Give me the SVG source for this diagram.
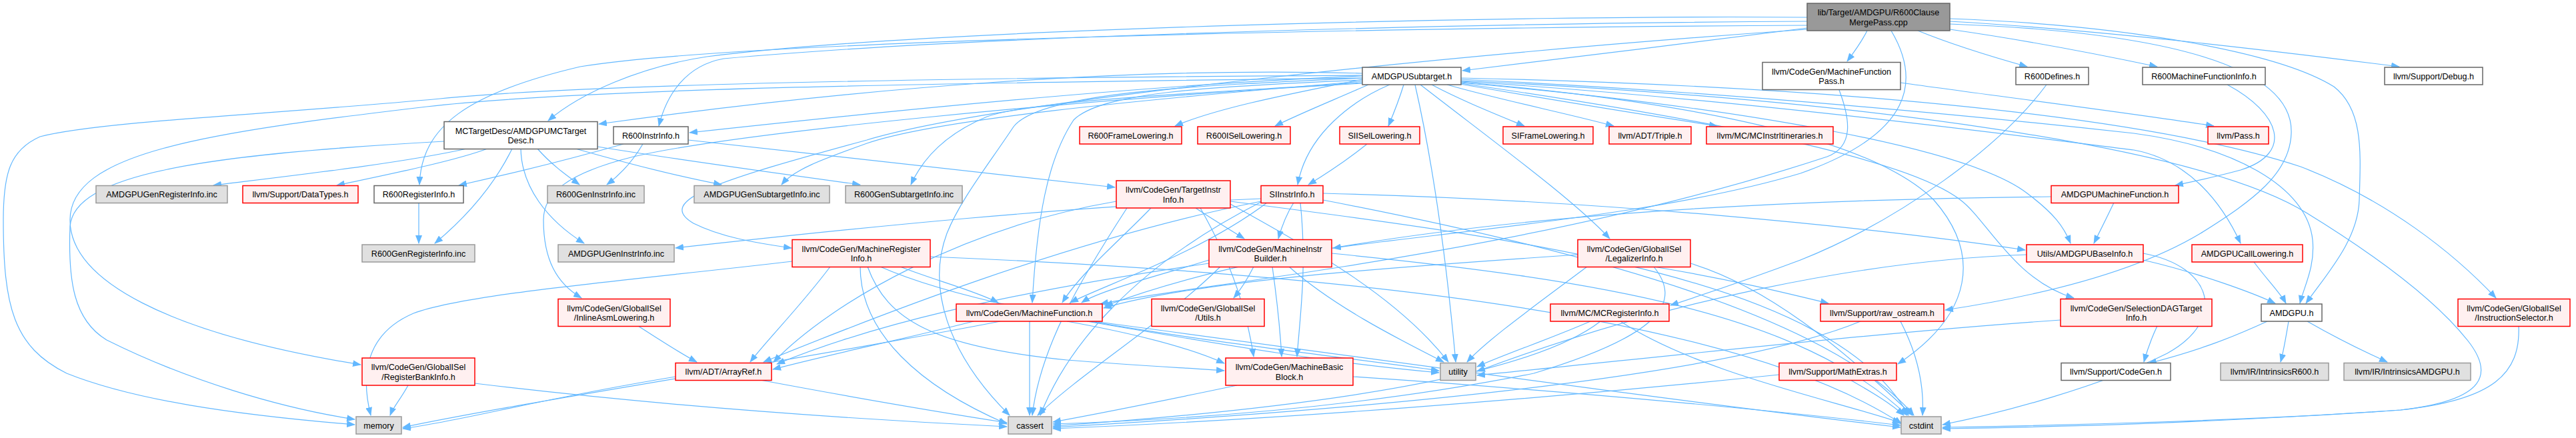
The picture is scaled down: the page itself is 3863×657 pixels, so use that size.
<svg xmlns="http://www.w3.org/2000/svg" width="3863" height="657" viewBox="0 0 3863 657">
<style>
.w rect{fill:#ffffff;stroke:#666666;stroke-width:1.5}
.g rect{fill:#e0e0e0;stroke:#999999;stroke-width:1.5}
.r rect{fill:#fff0f0;stroke:#ff0000;stroke-width:1.5}
.root rect{fill:#999999;stroke:#666666;stroke-width:1.5}
text{font-family:"Liberation Sans",Arial,Helvetica,sans-serif;font-size:12.6px;text-anchor:middle;fill:#000000}
#edges path{fill:none;stroke:#63b8ff;stroke-width:1.2;marker-end:url(#a)}
</style>
<defs>
<marker id="a" viewBox="0 0 13 10" refX="12" refY="5" markerWidth="13" markerHeight="10" orient="auto" markerUnits="userSpaceOnUse"><path d="M0,0L13,5L0,10z" fill="#63b8ff"/></marker>
</defs>
<rect x="0" y="0" width="3863" height="657" fill="#ffffff"/>
<g id="edges">
<path d="M2710,42 C2550,62 2350,88 2193,106"/>
<path d="M2800,46 C2792,62 2782,76 2770,92"/>
<path d="M2876,46 C2930,68 2990,86 3040,100"/>
<path d="M2924,44 C3050,62 3150,82 3235,100"/>
<path d="M2924,32 C3150,45 3400,75 3598,100"/>
<path d="M2924,28 C3200,38 3420,80 3500,130 C3545,165 3540,230 3538,300 C3536,360 3490,410 3458,455"/>
<path d="M2924,36 C3250,48 3440,100 3436,200 C3434,260 3380,300 3300,350 C3200,410 3050,445 2917,465"/>
<path d="M2710,26 C2300,22 1400,42 1060,85 C960,100 870,140 822,181"/>
<path d="M2710,32 C2300,34 1500,50 1085,88 C1030,98 1000,140 988,189"/>
<path d="M2710,38 C2000,42 1100,62 870,100 C700,140 632,190 629,277"/>
<path d="M2710,44 C2200,80 1500,150 1300,210 C1080,270 980,300 1040,335 C1080,355 1130,364 1187,372"/>
<path d="M2836,46 C2880,120 2870,200 2700,260 C2500,320 2200,345 1999,372"/>
<path d="M2043,119 C1950,138 1830,160 1762,189"/>
<path d="M2052,127 C2000,150 1950,170 1912,189"/>
<path d="M2105,127 C2098,150 2090,170 2082,189"/>
<path d="M2084,127 C2030,150 1960,200 1946,277"/>
<path d="M2147,127 C2190,150 2240,170 2286,189"/>
<path d="M2170,127 C2250,150 2350,170 2420,189"/>
<path d="M2189,126 C2300,145 2450,170 2575,189"/>
<path d="M2043,114 C1700,128 1300,170 1034,199"/>
<path d="M2043,122 C1700,150 1400,180 1300,215 C1230,240 1190,255 1172,277"/>
<path d="M2043,124 C1800,140 1550,150 1480,175 C1420,200 1385,235 1366,277"/>
<path d="M2043,120 C1800,130 1650,140 1610,180 C1570,240 1555,330 1548,454"/>
<path d="M2043,117 C1800,128 1560,138 1520,190 C1480,250 1440,300 1420,350 C1390,430 1420,530 1514,623"/>
<path d="M2043,125 C1600,150 1100,200 950,235 C850,260 815,290 815,330 C815,390 835,425 872,447"/>
<path d="M2043,117 C1500,124 900,130 640,160 C300,200 105,230 105,330 C105,420 250,500 541,547"/>
<path d="M2043,113 C1500,116 900,124 660,148 C400,172 150,182 60,205 C15,225 5,260 5,330 C5,460 20,520 100,560 C200,600 350,622 532,637"/>
<path d="M2122,127 C2150,250 2170,400 2183,543"/>
<path d="M2130,127 C2250,220 2360,300 2414,358"/>
<path d="M2191,119 C2600,138 3000,178 3200,200 C3350,220 3460,280 3468,360 C3472,400 3455,430 3449,455"/>
<path d="M2191,122 C2600,148 3000,200 3200,225 C3280,240 3330,300 3360,365"/>
<path d="M2191,124 C2600,160 2950,220 3040,290 C3080,320 3095,340 3105,365"/>
<path d="M2191,125 C2500,170 2850,230 2940,300 C2980,330 3020,420 3110,447"/>
<path d="M2191,117 C2700,128 3200,168 3450,250 C3580,300 3680,380 3743,447"/>
<path d="M2191,123 C2500,150 2800,200 2900,300 C2970,380 2960,470 2846,546"/>
<path d="M2191,121 C2800,150 3300,220 3460,320 C3590,400 3660,460 3700,510 C3740,560 3730,600 3600,615 C3400,630 3100,638 2913,641"/>
<path d="M2043,110 C1700,100 1300,130 898,186"/>
<path d="M2850,124 C3000,145 3200,170 3320,189"/>
<path d="M2758,135 C2775,180 2780,220 2740,235 C2300,380 1800,425 1650,456"/>
<path d="M3069,127 C3000,220 2850,330 2700,390 C2620,420 2560,440 2505,458"/>
<path d="M3340,127 C3420,170 3440,230 3360,255 C3320,266 3290,272 3262,278"/>
<path d="M700,223 C600,245 450,262 320,278"/>
<path d="M731,223 C680,242 580,262 505,278"/>
<path d="M806,223 C825,245 848,262 869,277"/>
<path d="M863,223 C940,245 1020,265 1082,277"/>
<path d="M896,220 C1020,240 1180,262 1290,277"/>
<path d="M768,223 C740,280 700,325 652,365"/>
<path d="M781,223 C782,280 820,330 876,365"/>
<path d="M666,212 C300,232 110,262 105,340 C102,420 110,480 160,510 C280,570 420,612 532,629"/>
<path d="M935,216 C850,240 760,262 688,278"/>
<path d="M964,216 C950,240 930,262 910,277"/>
<path d="M1032,210 C1250,235 1500,260 1672,281"/>
<path d="M628,304 L628,365"/>
<path d="M2050,216 C2020,240 1990,260 1962,277"/>
<path d="M1793,312 C1820,330 1845,345 1866,358"/>
<path d="M1726,312 C1680,360 1620,410 1593,454"/>
<path d="M1674,302 C1450,340 1250,450 1160,543"/>
<path d="M1800,312 C1850,400 1870,470 1880,535"/>
<path d="M1690,312 C1620,420 1560,520 1548,623"/>
<path d="M1845,302 C2300,360 2750,420 2862,623"/>
<path d="M1845,306 C1980,380 2100,450 2172,543"/>
<path d="M1891,298 C1600,310 1300,340 1013,372"/>
<path d="M1984,290 C2400,300 2800,340 3037,375"/>
<path d="M1891,302 C1600,360 1300,480 1145,543"/>
<path d="M1950,304 C1960,400 1950,470 1945,535"/>
<path d="M1900,304 C1800,380 1650,430 1605,454"/>
<path d="M1940,304 C1930,320 1922,340 1917,358"/>
<path d="M1891,303 C1700,400 1600,520 1560,623"/>
<path d="M1984,300 C2400,380 2750,480 2870,623"/>
<path d="M3170,304 C3160,325 3150,345 3140,365"/>
<path d="M3076,295 C2600,300 2000,330 1657,459"/>
<path d="M1245,400 C1200,460 1150,510 1125,543"/>
<path d="M1301,400 C1330,480 1400,520 1600,540 C1700,548 1780,552 1836,556"/>
<path d="M1350,400 C1400,420 1460,435 1497,454"/>
<path d="M1290,400 C1290,500 1380,580 1510,636"/>
<path d="M1395,385 C2000,410 2600,470 2852,636"/>
<path d="M1188,392 C950,420 700,440 620,470 C550,500 540,560 556,623"/>
<path d="M1320,400 C1500,480 1900,520 2158,556"/>
<path d="M1880,400 C1870,420 1860,435 1850,447"/>
<path d="M1908,400 C1915,450 1920,500 1922,535"/>
<path d="M1813,390 C1750,410 1650,435 1622,454"/>
<path d="M1813,395 C1500,440 1300,490 1165,546"/>
<path d="M1830,400 C1750,480 1620,560 1556,623"/>
<path d="M1997,380 C2400,420 2700,470 2860,623"/>
<path d="M1933,400 C2000,460 2100,510 2165,543"/>
<path d="M2366,382 C2100,400 1800,420 1655,462"/>
<path d="M2380,400 C2300,460 2230,510 2200,543"/>
<path d="M2480,400 C2600,420 2680,440 2742,455"/>
<path d="M2480,400 C2520,450 2500,500 2300,560 C2000,620 1700,632 1579,636"/>
<path d="M2535,395 C2650,430 2760,520 2868,623"/>
<path d="M3214,390 C3300,410 3380,440 3412,455"/>
<path d="M3214,380 C3320,400 3340,480 3250,530 C3150,580 3000,620 2913,637"/>
<path d="M3039,382 C2800,390 2500,450 2215,557"/>
<path d="M3380,393 C3400,420 3420,440 3428,455"/>
<path d="M1460,482 C1350,510 1250,530 1159,554"/>
<path d="M1600,482 C1700,500 1780,520 1836,545"/>
<path d="M1544,482 L1544,623"/>
<path d="M1640,482 C2000,530 2500,600 2850,641"/>
<path d="M1500,482 C1200,540 800,600 604,641"/>
<path d="M1630,482 C1850,520 2000,545 2158,559"/>
<path d="M2385,482 C2320,510 2260,530 2215,550"/>
<path d="M2400,482 C2300,560 2000,610 1579,639"/>
<path d="M2430,482 C2550,560 2750,600 2850,634"/>
<path d="M2790,482 C2650,540 2300,600 1579,641"/>
<path d="M2850,482 C2880,540 2885,590 2883,623"/>
<path d="M3235,489 C3225,510 3220,525 3215,543"/>
<path d="M3090,480 C2800,500 2450,540 2215,563"/>
<path d="M3400,482 C3350,505 3300,525 3222,545"/>
<path d="M3432,482 C3428,505 3425,525 3420,543"/>
<path d="M3460,482 C3500,505 3540,525 3580,543"/>
<path d="M3777,489 C3780,560 3740,600 3600,615 C3300,635 3100,640 2913,643"/>
<path d="M612,578 C600,600 590,610 585,623"/>
<path d="M712,575 C1000,610 1300,630 1510,640"/>
<path d="M1013,565 C800,600 700,630 604,643"/>
<path d="M1140,570 C1300,600 1420,620 1510,634"/>
<path d="M957,489 C990,510 1020,530 1045,543"/>
<path d="M1855,578 C1750,600 1650,620 1579,633"/>
<path d="M2029,565 C2400,590 2700,620 2850,638"/>
<path d="M2668,562 C2300,600 1900,630 1579,643"/>
<path d="M2775,570 C2810,590 2835,605 2855,623"/>
</g>
<g id="n_root" class="root"><rect x="2710" y="5" width="214" height="41"/><text x="2817" y="23">lib/Target/AMDGPU/R600Clause</text><text x="2817" y="37.5">MergePass.cpp</text></g>
<g id="n_subtarget" class="w"><rect x="2043" y="101" width="148" height="26"/><text x="2117" y="118.5">AMDGPUSubtarget.h</text></g>
<g id="n_mfpass" class="w"><rect x="2643" y="93.5" width="207" height="41"/><text x="2746.5" y="111.5">llvm/CodeGen/MachineFunction</text><text x="2746.5" y="126">Pass.h</text></g>
<g id="n_r600defines" class="w"><rect x="3023" y="101" width="109" height="26"/><text x="3077.5" y="118.5">R600Defines.h</text></g>
<g id="n_r600mfi" class="w"><rect x="3213" y="101" width="184" height="26"/><text x="3305" y="118.5">R600MachineFunctionInfo.h</text></g>
<g id="n_debug" class="w"><rect x="3576" y="101" width="147" height="26"/><text x="3649.5" y="118.5">llvm/Support/Debug.h</text></g>
<g id="n_mctargetdesc" class="w"><rect x="666" y="182.5" width="230" height="41"/><text x="781" y="200.5">MCTargetDesc/AMDGPUMCTarget</text><text x="781" y="215">Desc.h</text></g>
<g id="n_r600instrinfo" class="w"><rect x="920" y="190" width="112" height="26"/><text x="976" y="207.5">R600InstrInfo.h</text></g>
<g id="n_r600framelowering" class="r"><rect x="1619" y="190" width="153" height="26"/><text x="1695.5" y="207.5">R600FrameLowering.h</text></g>
<g id="n_r600isellowering" class="r"><rect x="1796" y="190" width="139" height="26"/><text x="1865.5" y="207.5">R600ISelLowering.h</text></g>
<g id="n_siisellowering" class="r"><rect x="2009" y="190" width="120" height="26"/><text x="2069" y="207.5">SIISelLowering.h</text></g>
<g id="n_siframelowering" class="r"><rect x="2254" y="190" width="135" height="26"/><text x="2321.5" y="207.5">SIFrameLowering.h</text></g>
<g id="n_triple" class="r"><rect x="2413" y="190" width="123" height="26"/><text x="2474.5" y="207.5">llvm/ADT/Triple.h</text></g>
<g id="n_mcinstritin" class="r"><rect x="2559" y="190" width="190" height="26"/><text x="2654" y="207.5">llvm/MC/MCInstrItineraries.h</text></g>
<g id="n_pass" class="r"><rect x="3311" y="190" width="91" height="26"/><text x="3356.5" y="207.5">llvm/Pass.h</text></g>
<g id="n_amdgpugenreginfo" class="g"><rect x="144" y="278.5" width="197" height="26"/><text x="242.5" y="296">AMDGPUGenRegisterInfo.inc</text></g>
<g id="n_datatypes" class="r"><rect x="364" y="278.5" width="173" height="26"/><text x="450.5" y="296">llvm/Support/DataTypes.h</text></g>
<g id="n_r600reginfo" class="w"><rect x="561" y="278.5" width="134" height="26"/><text x="628" y="296">R600RegisterInfo.h</text></g>
<g id="n_r600geninstrinfo" class="g"><rect x="821" y="278.5" width="145" height="26"/><text x="893.5" y="296">R600GenInstrInfo.inc</text></g>
<g id="n_amdgpugensubtarget" class="g"><rect x="1041" y="278.5" width="203" height="26"/><text x="1142.5" y="296">AMDGPUGenSubtargetInfo.inc</text></g>
<g id="n_r600gensubtarget" class="g"><rect x="1268" y="278.5" width="175" height="26"/><text x="1355.5" y="296">R600GenSubtargetInfo.inc</text></g>
<g id="n_targetinstrinfo" class="r"><rect x="1674" y="271" width="171" height="41"/><text x="1759.5" y="289">llvm/CodeGen/TargetInstr</text><text x="1759.5" y="303.5">Info.h</text></g>
<g id="n_siinstrinfo" class="r"><rect x="1891" y="278.5" width="93" height="26"/><text x="1937.5" y="296">SIInstrInfo.h</text></g>
<g id="n_amdgpumf" class="r"><rect x="3076" y="278.5" width="191" height="26"/><text x="3171.5" y="296">AMDGPUMachineFunction.h</text></g>
<g id="n_r600genreginfo" class="g"><rect x="543" y="367" width="169" height="26"/><text x="627.5" y="384.5">R600GenRegisterInfo.inc</text></g>
<g id="n_amdgpugeninstrinfo" class="g"><rect x="837" y="367" width="174" height="26"/><text x="924" y="384.5">AMDGPUGenInstrInfo.inc</text></g>
<g id="n_mri" class="r"><rect x="1188" y="359.5" width="207" height="41"/><text x="1291.5" y="377.5">llvm/CodeGen/MachineRegister</text><text x="1291.5" y="392">Info.h</text></g>
<g id="n_mib" class="r"><rect x="1813" y="359.5" width="184" height="41"/><text x="1905" y="377.5">llvm/CodeGen/MachineInstr</text><text x="1905" y="392">Builder.h</text></g>
<g id="n_legalizerinfo" class="r"><rect x="2366" y="359.5" width="169" height="41"/><text x="2450.5" y="377.5">llvm/CodeGen/GlobalISel</text><text x="2450.5" y="392">/LegalizerInfo.h</text></g>
<g id="n_baseinfo" class="r"><rect x="3039" y="367" width="175" height="26"/><text x="3126.5" y="384.5">Utils/AMDGPUBaseInfo.h</text></g>
<g id="n_calllowering" class="r"><rect x="3287" y="367" width="166" height="26"/><text x="3370" y="384.5">AMDGPUCallLowering.h</text></g>
<g id="n_inlineasm" class="r"><rect x="837" y="448.5" width="168" height="41"/><text x="921" y="466.5">llvm/CodeGen/GlobalISel</text><text x="921" y="481">/InlineAsmLowering.h</text></g>
<g id="n_mf" class="r"><rect x="1434" y="456" width="219" height="26"/><text x="1543.5" y="473.5">llvm/CodeGen/MachineFunction.h</text></g>
<g id="n_utils" class="r"><rect x="1727" y="448.5" width="169" height="41"/><text x="1811.5" y="466.5">llvm/CodeGen/GlobalISel</text><text x="1811.5" y="481">/Utils.h</text></g>
<g id="n_mcreginfo" class="r"><rect x="2325" y="456" width="178" height="26"/><text x="2414" y="473.5">llvm/MC/MCRegisterInfo.h</text></g>
<g id="n_rawostream" class="r"><rect x="2730" y="456" width="185" height="26"/><text x="2822.5" y="473.5">llvm/Support/raw_ostream.h</text></g>
<g id="n_sdag" class="r"><rect x="3090" y="448.5" width="227" height="41"/><text x="3203.5" y="466.5">llvm/CodeGen/SelectionDAGTarget</text><text x="3203.5" y="481">Info.h</text></g>
<g id="n_amdgpu" class="w"><rect x="3391" y="456" width="91" height="26"/><text x="3436.5" y="473.5">AMDGPU.h</text></g>
<g id="n_instsel" class="r"><rect x="3686" y="448.5" width="168" height="41"/><text x="3770" y="466.5">llvm/CodeGen/GlobalISel</text><text x="3770" y="481">/InstructionSelector.h</text></g>
<g id="n_regbank" class="r"><rect x="543" y="537" width="169" height="41"/><text x="627.5" y="555">llvm/CodeGen/GlobalISel</text><text x="627.5" y="569.5">/RegisterBankInfo.h</text></g>
<g id="n_arrayref" class="r"><rect x="1013" y="544.5" width="144" height="26"/><text x="1085" y="562">llvm/ADT/ArrayRef.h</text></g>
<g id="n_mbb" class="r"><rect x="1838" y="537" width="191" height="41"/><text x="1933.5" y="555">llvm/CodeGen/MachineBasic</text><text x="1933.5" y="569.5">Block.h</text></g>
<g id="n_utility" class="g"><rect x="2160" y="544.5" width="53" height="26"/><text x="2186.5" y="562">utility</text></g>
<g id="n_mathextras" class="r"><rect x="2668" y="544.5" width="176" height="26"/><text x="2756" y="562">llvm/Support/MathExtras.h</text></g>
<g id="n_codegen" class="w"><rect x="3091" y="544.5" width="164" height="26"/><text x="3173" y="562">llvm/Support/CodeGen.h</text></g>
<g id="n_intrr600" class="g"><rect x="3330" y="544.5" width="162" height="26"/><text x="3411" y="562">llvm/IR/IntrinsicsR600.h</text></g>
<g id="n_intramdgpu" class="g"><rect x="3515" y="544.5" width="190" height="26"/><text x="3610" y="562">llvm/IR/IntrinsicsAMDGPU.h</text></g>
<g id="n_memory" class="g"><rect x="534" y="625" width="68" height="26"/><text x="568" y="642.5">memory</text></g>
<g id="n_cassert" class="g"><rect x="1512" y="625" width="65" height="26"/><text x="1544.5" y="642.5">cassert</text></g>
<g id="n_cstdint" class="g"><rect x="2851" y="625" width="60" height="26"/><text x="2881" y="642.5">cstdint</text></g>
</svg>
